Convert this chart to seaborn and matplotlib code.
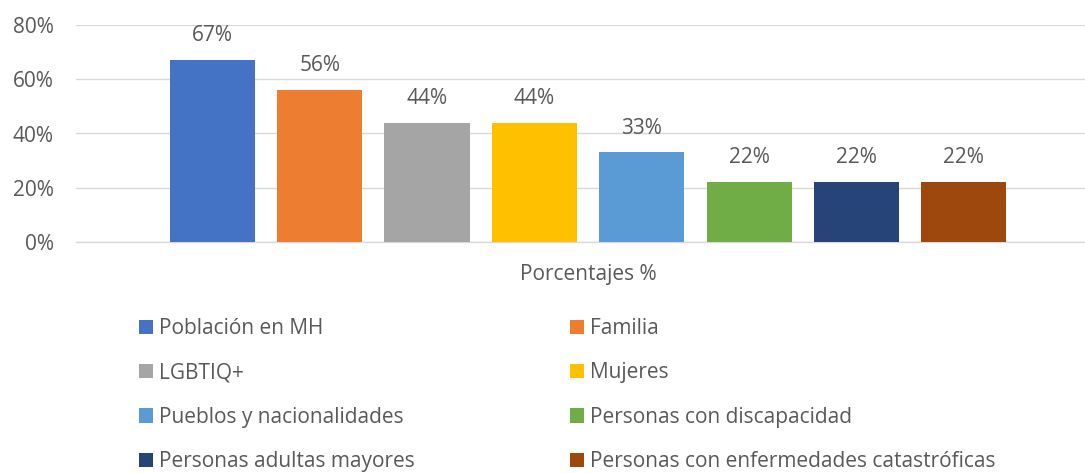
import pandas as pd
import matplotlib.pyplot as plt
import seaborn as sns
from matplotlib.ticker import PercentFormatter

# data
categoria = "Porcentajes %"
grupos = ["Población en MH", "Familia", "LGBTIQ+", "Mujeres",
          "Pueblos y nacionalidades", "Personas con discapacidad",
          "Personas adultas mayores", "Personas con enfermedades catastróficas"]
porcentajes = [0.67, 0.56, 0.44, 0.44, 0.33, 0.22, 0.22, 0.22]
colores = ["#4472C4", "#ED7D31", "#A5A5A5", "#FFC000",
           "#5B9BD5", "#70AD47", "#264478", "#9E480E"]

df = pd.DataFrame({"cat": [categoria] * len(grupos), "grupo": grupos, "valor": porcentajes})

sns.set_theme(style="white")
plt.rcParams["font.family"] = ["Open Sans", "DejaVu Sans"]
txt = "#595959"
fs = 15

fig = plt.figure(figsize=(10.85, 4.73), dpi=100)
W, H = 1085, 473
ax = fig.add_axes([76 / W, (H - 242) / H, (W - 76) / W, 217 / H])

sns.barplot(data=df, x="cat", y="valor", hue="grupo", hue_order=grupos,
            palette=colores, width=0.8, gap=0.208, saturation=1,
            linewidth=0, ax=ax)
handles, labels = ax.get_legend_handles_labels()
ax.legend_.remove()

for c in ax.containers:
    ax.bar_label(c, fmt=lambda v: f"{v:.0%}", padding=10, fontsize=fs, color=txt)

ax.set_ylim(0, 0.8)
ax.set_xlim(-0.477, 0.463)
ax.set_yticks([0, 0.2, 0.4, 0.6, 0.8])
ax.yaxis.set_major_formatter(PercentFormatter(1.0, decimals=0))
ax.yaxis.grid(True, color="#d9d9d9", lw=1.0)
ax.axhline(0, color="#d9d9d9", lw=1.0, clip_on=False, zorder=0.5)
ax.set_axisbelow(True)
for s in ax.spines.values():
    s.set_visible(False)
ax.tick_params(axis="y", length=0, pad=16, labelsize=fs, labelcolor=txt)
ax.tick_params(axis="x", length=0, pad=16, labelsize=fs, labelcolor=txt)
ax.set_xlabel("")
ax.set_ylabel("")

# legend: two columns as two legends
kw = dict(frameon=False, fontsize=fs, labelcolor=txt, handlelength=0.68,
          handleheight=0.68, handletextpad=0.3, labelspacing=1.12,
          borderpad=0, borderaxespad=0, loc="upper left")
fig.legend(handles[0::2], labels[0::2], bbox_to_anchor=(139 / W, 1 - 318 / H), **kw)
fig.legend(handles[1::2], labels[1::2], bbox_to_anchor=(570 / W, 1 - 318 / H), **kw)

fig.savefig("out.png", dpi=100)
